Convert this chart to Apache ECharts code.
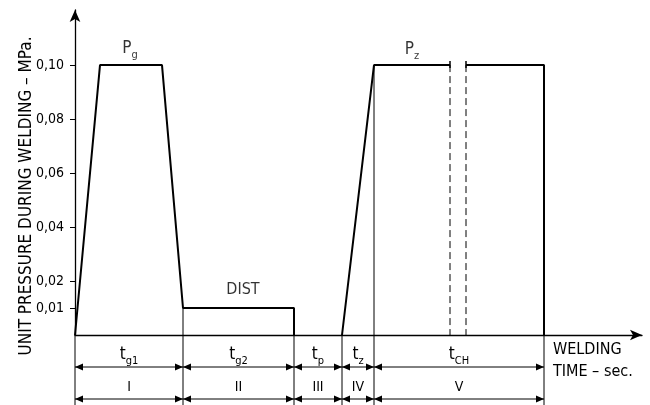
<!DOCTYPE html>
<html><head><meta charset="utf-8">
<script src="https://cdn.jsdelivr.net/npm/echarts@6/dist/echarts.min.js"></script>
<style>html,body{margin:0;padding:0;background:#fff}#c{width:650px;height:405px}</style>
</head><body><div id="c"></div>
<script>
// ---- data (time in arbitrary units, pressure in MPa) ----
const phaseBounds = [0, 108, 219, 267, 299, 469];
const phaseDurSubs = ['g1', 'g2', 'p', 'z', 'CH'];
const phaseStages = ['I', 'II', 'III', 'IV', 'V'];
const boundaryPressure = [0, 0.01, 0.01, 0, 0.10, 0.10];
const profileA = [[0, 0], [25, 0.10], [87, 0.10], [108, 0.01], [219, 0.01], [219, 0]];
const profileB = [[267, 0], [299, 0.10], [375, 0.10]];
const profileC = [[391, 0.10], [469, 0.10], [469, 0]];
const breakTimes = [375, 391];
const breakPressure = 0.10;
const yTicks = [0.01, 0.02, 0.04, 0.06, 0.08, 0.10];
const annoTexts = ['{m|P}{s|g}', '{d|DIST}', '{m|P}{s|z}'];
const annoX = [55, 168, 337];
const annoY = [0.10, 0.01, 0.10];

// ---- styles ----
const FONT = "'Liberation Sans Narrow','DejaVu Sans Condensed','Arial Narrow',sans-serif";
const INK = '#000';
const annoOffsets = [[0, -16], [0, -18], [0, -15]];
const richSub = {
  m: { fontFamily: FONT, fontSize: 17, color: INK, lineHeight: 23 },
  s: { fontFamily: FONT, fontSize: 11, color: INK, lineHeight: 11, verticalAlign: 'bottom' },
  d: { fontFamily: FONT, fontSize: 16, color: INK, lineHeight: 22 }
};

const chart = echarts.init(document.getElementById('c'), null, { renderer: 'canvas' });

function arrowRow(x0, x1, y) {
  const h = 8, w = 3.5;
  return [
    { type: 'line', shape: { x1: x0, y1: y, x2: x1, y2: y }, style: { stroke: INK, lineWidth: 1 } },
    { type: 'polygon', shape: { points: [[x0, y], [x0 + h, y - w], [x0 + h, y + w]] }, style: { fill: INK } },
    { type: 'polygon', shape: { points: [[x1, y], [x1 - h, y - w], [x1 - h, y + w]] }, style: { fill: INK } }
  ];
}

const phases = phaseDurSubs.map((s, i) => [phaseBounds[i], phaseBounds[i + 1], 0, i]);
const lineSeries = d => ({ type: 'line', data: d, showSymbol: false, symbol: 'none', lineStyle: { color: INK, width: 2 }, z: 5 });

const option = {
  animation: false,
  grid: { left: 75, right: 8, top: 10, bottom: 70 },
  xAxis: {
    type: 'value', min: 0, max: 567,
    axisLine: { show: true, lineStyle: { color: INK, width: 1.3 }, symbol: ['none', 'arrow'], symbolSize: [8, 12] },
    axisTick: { show: false }, axisLabel: { show: false }, splitLine: { show: false }
  },
  yAxis: {
    type: 'value', min: 0, max: 0.1204,
    axisLine: { show: true, lineStyle: { color: INK, width: 1.3 }, symbol: ['none', 'arrow'], symbolSize: [8, 12] },
    axisTick: { show: true, customValues: yTicks, length: 5, lineStyle: { color: INK, width: 1 } },
    axisLabel: { show: true, customValues: yTicks, formatter: v => v.toFixed(2).replace('.', ','), fontFamily: FONT, fontSize: 14, color: INK, margin: 11 },
    splitLine: { show: false }
  },
  series: [
    lineSeries(profileA), lineSeries(profileB), lineSeries(profileC),
    {
      type: 'custom', clip: false, data: phaseBounds.map((t, i) => [t, boundaryPressure[i]]),
      renderItem: (params, api) => {
        const p = api.coord([api.value(0), api.value(1)]);
        return { type: 'line', shape: { x1: p[0], y1: p[1], x2: p[0], y2: api.getHeight() }, style: { stroke: INK, lineWidth: 1 } };
      }
    },
    {
      type: 'custom', clip: false, data: breakTimes.map(t => [t, breakPressure]),
      renderItem: (params, api) => {
        const p = api.coord([api.value(0), api.value(1)]);
        const b = api.coord([api.value(0), 0]);
        return {
          type: 'group', children: [
            { type: 'line', shape: { x1: p[0], y1: p[1], x2: b[0], y2: b[1] }, style: { stroke: INK, lineWidth: 1, lineDash: [7, 4] } },
            { type: 'line', shape: { x1: p[0], y1: p[1] - 4, x2: p[0], y2: p[1] + 3 }, style: { stroke: INK, lineWidth: 1.5 } }
          ]
        };
      }
    },
    {
      type: 'custom', clip: false, data: phases, encode: { x: [0, 1], y: 2 },
      renderItem: (params, api) => {
        const i = api.value(3);
        const a = api.coord([api.value(0), 0]);
        const b = api.coord([api.value(1), 0]);
        const y0 = a[1];
        const cx = (a[0] + b[0]) / 2;
        return {
          type: 'group', children: [
            ...arrowRow(a[0], b[0], y0 + 32),
            ...arrowRow(a[0], b[0], y0 + 64),
            { type: 'text', x: cx, y: y0 + 20, style: { text: '{m|t}{s|' + phaseDurSubs[i] + '}', rich: richSub, align: 'center', verticalAlign: 'middle' } },
            { type: 'text', x: cx, y: y0 + 52, style: { text: phaseStages[i], fontFamily: FONT, fontSize: 14, fill: INK, align: 'center', verticalAlign: 'middle' } }
          ]
        };
      }
    },
    {
      type: 'scatter', symbolSize: 0, z: 6,
      data: annoTexts.map((t, i) => ({
        value: [annoX[i], annoY[i]],
        label: { show: true, formatter: t, rich: richSub, position: 'inside', offset: annoOffsets[i], align: 'center', verticalAlign: 'middle' }
      }))
    }
  ],
  graphic: [
    { type: 'text', x: 27, y: 196, rotation: Math.PI / 2, style: { text: 'UNIT PRESSURE DURING WELDING – MPa.', fontFamily: FONT, fontSize: 17, fill: INK, align: 'center', verticalAlign: 'middle' } },
    { type: 'text', x: 553, y: 339, style: { text: 'WELDING\nTIME – sec.', fontFamily: FONT, fontSize: 16, lineHeight: 22, fill: INK, align: 'left', verticalAlign: 'top' } }
  ]
};
chart.setOption(option);
</script></body></html>
